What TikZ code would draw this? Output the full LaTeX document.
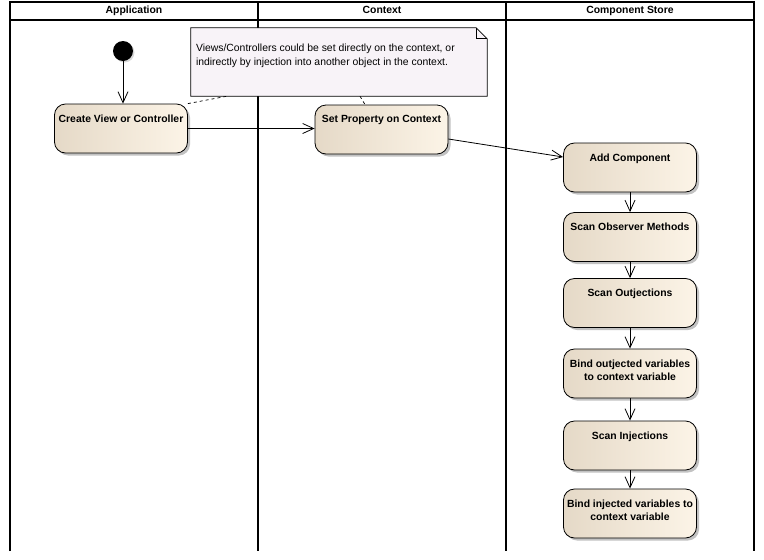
\documentclass[tikz,border=0pt]{standalone}
\usepackage{fontspec}
\setmainfont{Liberation Sans}
\usetikzlibrary{arrows.meta,shadows,backgrounds}

\definecolor{actdark}{RGB}{229,217,199}
\definecolor{actlight}{RGB}{252,244,231}
\definecolor{notefill}{RGB}{248,243,248}

% text of an activity, set from the top of the box
\newcommand{\acttext}[1]{\parbox[c][49pt][t]{131pt}{\centering\fontsize{10.4}{13.5}\selectfont\bfseries\vspace*{10.5pt}#1}}

\tikzset{
  lane/.style={line width=1.1pt},
  lanehead/.style={font=\fontsize{10.4}{12}\selectfont\bfseries, text height=7.5pt, text depth=2pt},
  activity/.style={rectangle, rounded corners=11pt, draw=black, line width=0.8pt,
    minimum width=133pt, minimum height=49pt, inner sep=0pt,
    left color=actdark, right color=actlight,
    drop shadow={shadow xshift=2.5pt, shadow yshift=-2.5pt, fill=black!40, opacity=0.6}},
  startnode/.style={circle, fill=black, minimum size=20pt, inner sep=0pt,
    drop shadow={shadow xshift=1.5pt, shadow yshift=-1.5pt, fill=black!30, opacity=0.5}},
  notebox/.style={rectangle, minimum width=296pt, minimum height=68pt, inner sep=0pt},
  flow/.style={line width=0.8pt, -{Straight Barb[length=11pt,width=10pt,line width=0.8pt]}},
  notelink/.style={line width=0.7pt, dash pattern=on 3pt off 3pt},
}

\begin{document}
\begin{tikzpicture}[x=1pt, y=-1pt]
  \useasboundingbox (0,0) rectangle (764,560);

  % swimlanes
  \begin{scope}[on background layer]
    \draw[lane] (10,551) -- (10,2) -- (754,2) -- (754,551);
    \draw[lane] (10,20) -- (754,20);
    \draw[lane] (258,2) -- (258,551);
    \draw[lane] (506,2) -- (506,551);
  \end{scope}
  \node[lanehead] (appl) at (134,11) {Application};
  \node[lanehead] (ctx) at (382,11) {Context};
  \node[lanehead] (store) at (630,11) {Component Store};

  % note
  \node[notebox] (note) at (339,62) {\parbox[c][68pt][t]{286pt}{\raggedright\fontsize{10.4}{14}\selectfont\vspace*{15.5pt}Views/Controllers could be set directly on the context, or\\indirectly by injection into another object in the context.}};
  \begin{scope}[on background layer]
    \filldraw[fill=notefill, draw=black, line width=0.8pt]
      (note.north west) -- ([xshift=-11pt]note.north east) -- ([yshift=-11pt]note.north east)
      -- (note.south east) -- (note.south west) -- cycle;
    \draw[line width=0.8pt] ([xshift=-11pt]note.north east) -- ([xshift=-11pt,yshift=-11pt]note.north east)
      -- ([yshift=-11pt]note.north east);
  \end{scope}

  % activities
  \node[startnode] (init) at (123,51) {};
  \node[activity] (create) at (121,128.5) {\acttext{Create View or Controller}};
  \node[activity] (setprop) at (381.5,129.5) {\acttext{Set Property on Context}};
  \node[activity] (addcomp) at (630,167.5) {\acttext{Add Component}};
  \node[activity] (observer) at (630,237) {\acttext{Scan Observer Methods}};
  \node[activity] (outj) at (630,303) {\acttext{Scan Outjections}};
  \node[activity] (bindout) at (630,373.5) {\acttext{Bind outjected variables\\to context variable}};
  \node[activity] (inj) at (630,445.5) {\acttext{Scan Injections}};
  \node[activity] (bindinj) at (630,513.5) {\acttext{Bind injected variables to\\context variable}};

  % flows
  \draw[flow] (init.south) -- (init.south |- create.north);
  \draw[flow] (create.east) -- (create.east -| setprop.west);
  \draw[flow] ([yshift=-9.5pt]setprop.east) -- ([yshift=10.5pt]addcomp.west);
  \draw[flow] (addcomp) -- (observer);
  \draw[flow] (observer) -- (outj);
  \draw[flow] (outj) -- (bindout);
  \draw[flow] (bindout) -- (inj);
  \draw[flow] (inj) -- (bindinj);

  % note links
  \draw[notelink] (create.north east) -- ([xshift=-112pt]note.south);
  \draw[notelink] ([xshift=21pt]note.south) -- ([xshift=-16.5pt]setprop.north);
\end{tikzpicture}
\end{document}
